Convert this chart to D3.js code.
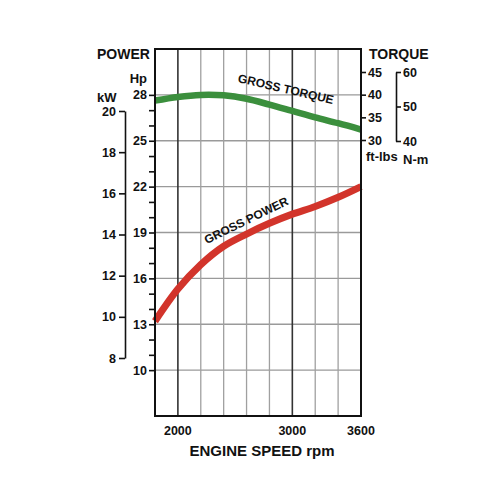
<!DOCTYPE html>
<html>
<head>
<meta charset="utf-8">
<script src="https://cdn.jsdelivr.net/npm/d3@7"></script>
<style>
  body { margin: 0; background: #fff; }
  text { font-family: "Liberation Sans", Arial, sans-serif; font-weight: bold; fill: #111; }
</style>
</head>
<body>
<div id="chart"></div>
<script>
// engine speed (rpm) and curve readings
const rpm = [1800, 2000, 2200, 2400, 2600, 2800, 3000, 3200, 3400, 3600];
const grossPower = [13.2, 15.3, 16.9, 18.1, 18.9, 19.6, 20.2, 20.7, 21.3, 22.0];   // Hp
const grossTorque = [38.7, 39.5, 39.95, 39.85, 39.1, 37.8, 36.4, 35.0, 33.7, 32.3]; // ft-lbs

const rpmTicks = [2000, 3000, 3600];
const rpmGrid = [2000, 2200, 2400, 2600, 2800, 3000, 3200, 3400];
const rpmDark = [2000, 3000];
const hpTicks = [10, 13, 16, 19, 22, 25, 28];
const kwTicks = [8, 10, 12, 14, 16, 18, 20];
const torqueTicks = [30, 35, 40, 45];
const nmTicks = [40, 50, 60];

const W = 500, H = 500;
const svg = d3.select('#chart').append('svg').attr('width', W).attr('height', H);

const x = d3.scaleLinear().domain([1800, 3600]).range([155, 361]);
const yHp = d3.scaleLinear().domain([7, 31]).range([416, 49]);
const yKw = d3.scaleLinear().domain([8, 20]).range([358, 111]);
const yTq = d3.scaleLinear().domain([30, 45]).range([140, 72]);
const yNm = d3.scaleLinear().domain([40, 60]).range([141, 72]);

// grid
const grid = svg.append('g');
grid.selectAll('line.h').data(hpTicks).enter().append('line')
    .attr('x1', x(1800)).attr('x2', x(3600))
    .attr('y1', d => yHp(d)).attr('y2', d => yHp(d))
    .style('stroke', '#9a9a9a').style('stroke-width', 1.3);
grid.selectAll('line.v').data(rpmGrid).enter().append('line')
    .attr('x1', d => x(d)).attr('x2', d => x(d))
    .attr('y1', yHp(31)).attr('y2', yHp(7))
    .style('stroke', d => rpmDark.includes(d) ? '#333' : '#a0a0a0')
    .style('stroke-width', d => rpmDark.includes(d) ? 1.6 : 1.3);

// curves
const line = d3.line().curve(d3.curveCatmullRom.alpha(0.5));
svg.append('path')
    .attr('d', line(rpm.map((r, i) => [x(r), yTq(grossTorque[i])])))
    .style('fill', 'none').style('stroke', '#3b8f3d').style('stroke-width', 6.5);
svg.append('path')
    .attr('d', line(rpm.map((r, i) => [x(r), yHp(grossPower[i])])))
    .style('fill', 'none').style('stroke', '#d2342b').style('stroke-width', 7);

// frame
svg.append('rect')
    .attr('x', x(1800)).attr('y', yHp(31))
    .attr('width', x(3600) - x(1800)).attr('height', yHp(7) - yHp(31))
    .style('fill', 'none').style('stroke', '#111').style('stroke-width', 2);

function styleAxis(g) {
  g.selectAll('path, line').style('stroke', '#111').style('stroke-width', 1.6);
  g.selectAll('text').style('font-size', '12.5px').style('font-family', '"Liberation Sans", Arial, sans-serif')
    .style('font-weight', 'bold').style('fill', '#111');
}

// Hp axis (minor ticks each 1 Hp)
const hpAxis = svg.append('g').attr('transform', 'translate(' + x(1800) + ',0)')
  .call(d3.axisLeft(yHp).tickValues(d3.range(10, 29)).tickSize(6).tickSizeOuter(0)
    .tickFormat(d => hpTicks.includes(d) ? d : ''));
hpAxis.select('.domain').remove();
hpAxis.selectAll('text').attr('x', -8);
styleAxis(hpAxis);

// kW axis
const kwAxis = svg.append('g').attr('transform', 'translate(125,0)')
  .call(d3.axisLeft(yKw).tickValues(kwTicks).tickSize(6).tickSizeOuter(0));
styleAxis(kwAxis);

// torque axis ft-lbs
const tqAxis = svg.append('g').attr('transform', 'translate(' + x(3600) + ',0)')
  .call(d3.axisRight(yTq).tickValues(torqueTicks).tickSize(5).tickSizeOuter(0));
tqAxis.select('.domain').remove();
tqAxis.selectAll('text').attr('x', 7);
styleAxis(tqAxis);

// torque axis N-m
const nmAxis = svg.append('g').attr('transform', 'translate(396,0)')
  .call(d3.axisRight(yNm).tickValues(nmTicks).tickSize(5).tickSizeOuter(0));
nmAxis.selectAll('text').attr('x', 7);
styleAxis(nmAxis);

// rpm labels
svg.selectAll('text.rpm').data(rpmTicks).enter().append('text')
    .attr('x', d => x(d)).attr('y', 435)
    .attr('text-anchor', 'middle').style('font-size', '12.5px')
    .text(d => d);

// titles
svg.append('text').attr('x', 97).attr('y', 59).style('font-size', '14px').text('POWER');
svg.append('text').attr('x', 369).attr('y', 59).style('font-size', '14px').text('TORQUE');
svg.append('text').attr('x', 147).attr('y', 83).attr('text-anchor', 'end').style('font-size', '13px').text('Hp');
svg.append('text').attr('x', 97).attr('y', 102).style('font-size', '13px').text('kW');
svg.append('text').attr('x', 366).attr('y', 161).style('font-size', '13px').text('ft-lbs');
svg.append('text').attr('x', 403).attr('y', 164).style('font-size', '13px').text('N-m');
svg.append('text').attr('x', 262).attr('y', 456).attr('text-anchor', 'middle')
    .style('font-size', '15px').text('ENGINE SPEED rpm');

svg.append('text').attr('transform', 'translate(285,93) rotate(13)')
    .attr('text-anchor', 'middle').style('font-size', '12px').text('GROSS TORQUE');
svg.append('text').attr('transform', 'translate(248,224) rotate(-26)')
    .attr('text-anchor', 'middle').style('font-size', '12px').text('GROSS POWER');
</script>
</body>
</html>
